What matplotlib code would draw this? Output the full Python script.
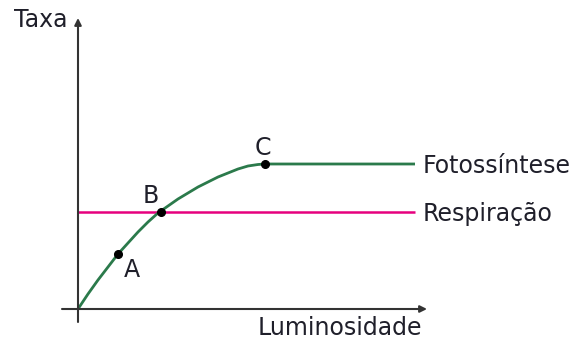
import matplotlib
matplotlib.use("Agg")
import matplotlib.pyplot as plt

# curve points (origin -> C), then plateau
curve_x = [0, 10, 20, 30, 40, 50, 60, 70, 80, 90, 100, 110, 120, 130, 140, 150, 160, 170, 180, 187, 337]
curve_y = [0, 15, 29, 42, 55, 66, 77, 87, 96, 103, 110, 116, 122, 127, 132, 136, 140, 143, 144.5, 145, 145]
resp_x = [0, 337]
resp_y = [97, 97]
point_names = ["A", "B", "C"]
point_x = [40, 83, 187]
point_y = [55, 97, 145]

green = "#2b7a4b"
pink = "#e6007e"
axis_col = "#333333"
text_col = "#1f1f2a"
fs = 17

fig = plt.figure(figsize=(5.76, 3.40), dpi=100)
ax = fig.add_axes([0, 0, 1, 1])
ax.set_xlim(-78, 498)
ax.set_ylim(-31, 309)
ax.axis("off")

# axes with arrows
ax.annotate("", xy=(349, 0), xytext=(-16, 0),
            arrowprops=dict(arrowstyle="-|>", color=axis_col, lw=1.5,
                            mutation_scale=10, shrinkA=0, shrinkB=0))
ax.annotate("", xy=(0, 291), xytext=(0, -13),
            arrowprops=dict(arrowstyle="-|>", color=axis_col, lw=1.5,
                            mutation_scale=10, shrinkA=0, shrinkB=0))

ax.plot(resp_x, resp_y, color=pink, lw=1.8, solid_capstyle="butt")
ax.plot(curve_x, curve_y, color=green, lw=2.0, solid_capstyle="butt")
ax.plot(point_x, point_y, "o", color="black", ms=5.5)

label_pos = [(54, 32), (73, 106), (185, 154)]
for name, (lx, ly) in zip(point_names, label_pos):
    ax.text(lx, ly, name, fontsize=fs, ha="center", va="baseline", color=text_col)

ax.text(345, 136, "Fotossíntese", fontsize=fs, ha="left", va="baseline", color=text_col)
ax.text(345, 88, "Respiração", fontsize=fs, ha="left", va="baseline", color=text_col)
ax.text(344, -26, "Luminosidade", fontsize=fs, ha="right", va="baseline", color=text_col)
ax.text(-10, 282, "Taxa", fontsize=fs, ha="right", va="baseline", color=text_col)

fig.savefig("out.png", dpi=100)
